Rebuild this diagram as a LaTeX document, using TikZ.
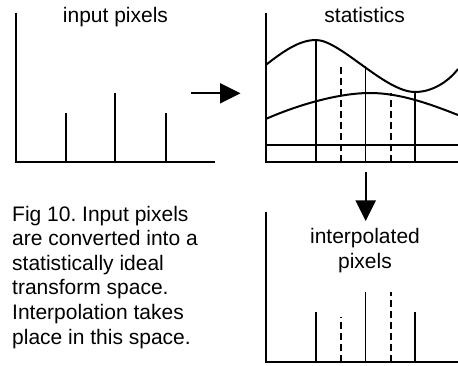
\documentclass[tikz,border=0pt]{standalone}
\usepackage{fontspec}
\setmainfont{Liberation Sans}
\usetikzlibrary{arrows.meta}
\frenchspacing

\begin{document}
\begin{tikzpicture}[x=1pt, y=-1pt, line cap=butt,
  axisline/.style={line width=2pt},
  barline/.style={line width=1.8pt},
  dashline/.style={line width=2pt, dash pattern=on 7pt off 4pt},
  flowarrow/.style={line width=2pt, -{Triangle[length=20.5pt, width=20pt]}},
  label/.style={inner sep=0pt, font=\fontsize{21}{24.6}\selectfont}]
  \useasboundingbox (0,0) rectangle (458,366);
  \def\base{162.5}
  % Input pixels
  \node[label, anchor=base] (inTitle) at (115.5,22.7) {input pixels};
  \draw[axisline] (15.7,12.7) -- (15.7,\base) -- (215,\base);
  \foreach \x/\top in {66/112.7, 115.3/93.3, 165.7/112.7}
    \draw[barline] (\x,\base) -- (\x,\top);
  % Arrow to statistics
  \coordinate (inOut) at (190.7,93.3);
  \coordinate (statIn) at (240.5,93.3);
  \draw[flowarrow] (inOut) -- (statIn);
  % Statistics
  \node[label, anchor=base] (statTitle) at (364.7,22.7) {statistics};
  \draw[axisline] (265.7,12.7) -- (265.7,\base) -- (458,\base);
  \draw[barline] (265.7,145) -- (458,145);
  \draw[axisline] (265.7,65) .. controls (285,50) and (300,40) .. (316,40)
    .. controls (340,40) and (385,92) .. (415,92)
    .. controls (432,92) and (448,82) .. (458,69);
  \draw[axisline] (265.7,119) .. controls (300,104) and (340,93) .. (370,93)
    .. controls (400,93) and (430,104) .. (458,115);
  \foreach \x/\top in {316/40, 365.5/66.5, 415/92}
    \draw[barline] (\x,\base) -- (\x,\top);
  \foreach \x/\top in {340.5/65, 390.5/93}
    \draw[dashline] (\x,\base) -- (\x,\top);
  % Arrow to interpolated pixels
  \coordinate (statOut) at (365.7,171.7);
  \coordinate (interpIn) at (365.7,221);
  \draw[flowarrow] (statOut) -- (interpIn);
  % Interpolated pixels
  \def\base{361.7}
  \node[label, anchor=base, align=center] (interpTitle) at (365,268.5) {interpolated\\pixels};
  \draw[axisline] (265.7,211.7) -- (265.7,\base) -- (458,\base);
  \foreach \x/\top in {316/311.7, 365.5/292.3, 415/311.7}
    \draw[barline] (\x,\base) -- (\x,\top);
  \foreach \x/\top in {340.5/316.7, 390.5/291.7}
    \draw[dashline] (\x,\base) -- (\x,\top);
  % Caption
  \node[label, anchor=base west, align=left] (caption) at (12,344)
    {Fig 10. Input pixels\\are converted into a\\statistically ideal\\transform space.\\Interpolation takes\\place in this space.};
\end{tikzpicture}
\end{document}
